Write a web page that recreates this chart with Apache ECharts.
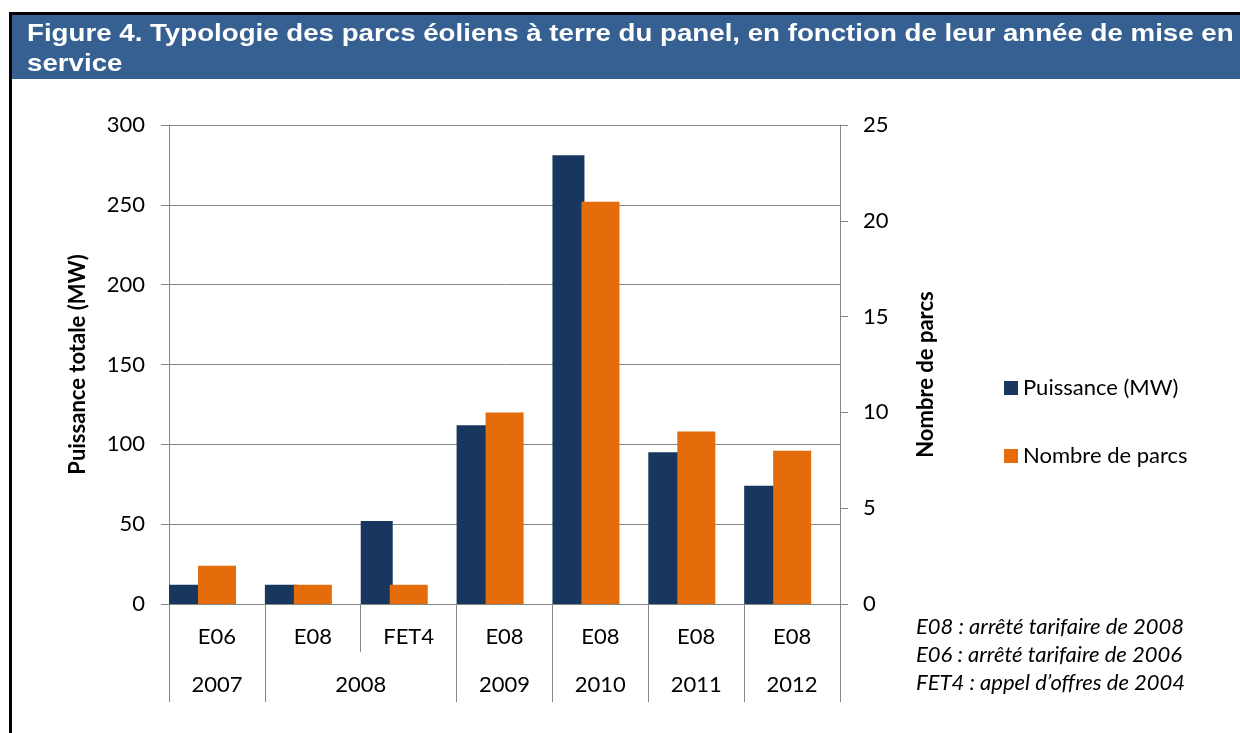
<!DOCTYPE html>
<html lang="fr">
<head>
<meta charset="UTF-8" />
<title>Typologie des parcs éoliens à terre du panel</title>
<script src="https://cdn.jsdelivr.net/npm/echarts@6/dist/echarts.min.js"></script>
<style>
  html, body { margin: 0; padding: 0; background: #fff; }
  #chart { width: 1240px; height: 733px; }
</style>
</head>
<body>
<div id="chart"></div>
<script>
// données
const categories = ['E06', 'E08', 'FET4', 'E08', 'E08', 'E08', 'E08'];
const years = ['2007', '2008', '2009', '2010', '2011', '2012'];
const yearSpans = [1, 2, 1, 1, 1, 1]; // nombre de catégories par année
const puissance = [12, 12, 52, 112, 281, 95, 74];
const nombreParcs = [2, 1, 1, 10, 21, 9, 8];
const notes = [
  'E08 : arrêté tarifaire de 2008',
  'E06 : arrêté tarifaire de 2006',
  'FET4 : appel d\u2019offres de 2004'
];
const titleLines = [
  'Figure 4. Typologie des parcs éoliens à terre du panel, en fonction de leur année de mise en',
  'service'
];

const GRAY = '#868686';
const BLUE = '#17375E';
const ORANGE = '#E46C0A';
const FONT = 'Lato';
const FS = 22;

// axe des années : 2 points par catégorie (boundaryGap false)
const yearPoints = new Array(categories.length * 2 + 1).fill('');
const yearBounds = new Set();
let start = 0;
years.forEach(function (y, i) {
  yearPoints[2 * start + yearSpans[i]] = y;
  yearBounds.add(2 * start);
  start += yearSpans[i];
});
yearBounds.add(2 * start);

const chart = echarts.init(document.getElementById('chart'), null, { renderer: 'canvas' });

const option = {
  animation: false,
  textStyle: { fontFamily: FONT, color: '#000' },
  grid: { left: 169, right: 400, top: 125, bottom: 129, outerBoundsMode: 'none', containLabel: false },
  legend: {
    orient: 'vertical',
    left: 999,
    top: 372,
    icon: 'rect',
    itemWidth: 14,
    itemHeight: 14,
    itemGap: 46,
    data: ['Puissance (MW)', 'Nombre de parcs'],
    textStyle: { fontFamily: FONT, fontSize: FS, color: '#000', lineHeight: 22 }
  },
  xAxis: [
    {
      type: 'category',
      data: categories,
      position: 'bottom',
      axisLine: { show: true, lineStyle: { color: GRAY, width: 1 } },
      axisTick: { show: true, length: 48, interval: 0, alignWithLabel: false, lineStyle: { color: GRAY } },
      axisLabel: { interval: 0, margin: 22, fontSize: FS, color: '#000', fontFamily: FONT },
      splitLine: { show: false }
    },
    {
      type: 'category',
      data: yearPoints,
      position: 'bottom',
      boundaryGap: false,
      axisLine: { show: false },
      axisTick: {
        show: true,
        length: 98,
        interval: function (idx) { return yearBounds.has(idx); },
        lineStyle: { color: GRAY }
      },
      axisLabel: { interval: 0, margin: 70, fontSize: FS, color: '#000', fontFamily: FONT },
      splitLine: { show: false }
    }
  ],
  yAxis: [
    {
      type: 'value',
      min: 0,
      max: 300,
      interval: 50,
      position: 'left',
      name: 'Puissance totale (MW)',
      nameLocation: 'middle',
      nameGap: 80,
      nameTextStyle: { fontFamily: FONT, fontSize: FS, fontWeight: 'bold', color: '#000' },
      axisLine: { show: true, lineStyle: { color: GRAY } },
      axisTick: { show: true, length: 8, lineStyle: { color: GRAY } },
      axisLabel: { margin: 24, fontSize: FS, color: '#000', fontFamily: FONT },
      splitLine: { show: true, lineStyle: { color: GRAY, width: 1 } }
    },
    {
      type: 'value',
      min: 0,
      max: 25,
      interval: 5,
      position: 'right',
      name: 'Nombre de parcs',
      nameLocation: 'middle',
      nameGap: 75,
      nameTextStyle: { fontFamily: FONT, fontSize: FS, fontWeight: 'bold', color: '#000', padding: [0, 20, 0, 0] },
      axisLine: { show: true, lineStyle: { color: GRAY } },
      axisTick: { show: true, length: 8, lineStyle: { color: GRAY } },
      axisLabel: { margin: 23, fontSize: FS, color: '#000', fontFamily: FONT },
      splitLine: { show: false }
    }
  ],
  series: [
    {
      name: 'Puissance (MW)',
      type: 'bar',
      xAxisIndex: 0,
      yAxisIndex: 0,
      data: puissance,
      barWidth: 32,
      barGap: '-9.4%',
      itemStyle: { color: BLUE }
    },
    {
      name: 'Nombre de parcs',
      type: 'bar',
      xAxisIndex: 0,
      yAxisIndex: 1,
      data: nombreParcs,
      barWidth: 38,
      barGap: '-9.4%',
      itemStyle: { color: ORANGE }
    },
    {
      // emplacement vide pour reproduire l'écart à droite des barres
      name: '_gap',
      type: 'bar',
      xAxisIndex: 0,
      yAxisIndex: 0,
      data: categories.map(function () { return null; }),
      barWidth: 32.4,
      barGap: '-9.4%',
      silent: true,
      itemStyle: { color: 'rgba(0,0,0,0)' }
    }
  ],
  graphic: [
    { type: 'rect', left: 9, top: 12, shape: { width: 3, height: 721 }, style: { fill: '#000' } },
    { type: 'rect', left: 9, top: 12, shape: { width: 1231, height: 3 }, style: { fill: '#000' } },
    { type: 'rect', left: 12, top: 15, shape: { width: 1228, height: 64 }, style: { fill: '#366092' } },
    {
      type: 'text',
      x: 27,
      y: 19,
      scaleX: 1.153,
      style: {
        text: titleLines.join('\n'),
        fill: '#fff',
        font: 'bold 24px "Liberation Sans", Arial, sans-serif',
        lineHeight: 30
      }
    },
    {
      type: 'text',
      left: 916,
      top: 613,
      style: {
        text: notes.join('\n'),
        fill: '#000',
        font: 'italic 22px Lato, sans-serif',
        lineHeight: 28
      }
    }
  ]
};

chart.setOption(option);
</script>
</body>
</html>
